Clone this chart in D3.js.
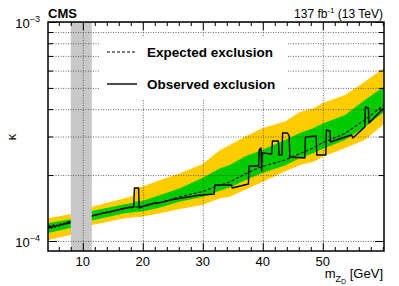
<!DOCTYPE html>
<html>
<head>
<meta charset="utf-8">
<script src="https://cdn.jsdelivr.net/npm/d3@7"></script>
<style>
  body { margin: 0; background: #fff; }
  text { font-family: "Liberation Sans", Arial, Helvetica, sans-serif; fill: #000; }
</style>
</head>
<body>
<div id="chart"></div>
<script>
// kappa values are given in units of 1e-4
var UNIT = 1e-4;

// expected limit and bands
var bandMass   = [4.2, 7.9, 11.5, 17.0, 18.3, 18.8, 19.9, 22.9, 26.2, 29.9, 32.9, 34.5, 37.0, 39.9, 43.7, 46.2, 48.5, 49.9, 53.7, 57.0, 60.2];
var yellowUp   = [1.27, 1.325, 1.435, 1.566, 1.605, 1.746, 1.768, 1.899, 2.04, 2.24, 2.60, 2.744, 2.99, 3.27, 3.51, 3.88, 4.04, 4.26, 4.64, 5.33, 6.17];
var greenUp    = [1.205, 1.256, 1.371, 1.471, 1.491, 1.515, 1.523, 1.622, 1.74, 1.94, 2.15, 2.223, 2.43, 2.603, 2.892, 3.11, 3.28, 3.43, 3.762, 4.404, 5.06];
var expected   = [1.146, 1.208, 1.305, 1.41, 1.42, 1.43, 1.435, 1.495, 1.594, 1.68, 1.80, 1.86, 2.02, 2.19, 2.343, 2.51, 2.67, 2.80, 3.10, 3.57, 4.18];
var greenDown  = [1.088, 1.146, 1.241, 1.338, 1.35, 1.356, 1.364, 1.422, 1.515, 1.588, 1.70, 1.755, 1.887, 2.044, 2.212, 2.393, 2.523, 2.631, 2.892, 3.316, 3.882];
var yellowDown = [1.011, 1.065, 1.183, 1.27, 1.28, 1.287, 1.29, 1.338, 1.40, 1.46, 1.566, 1.594, 1.71, 1.86, 2.076, 2.223, 2.30, 2.42, 2.66, 2.892, 3.422];

// observed limit
var obsMass = [4.2, 4.5, 4.8, 5.1, 5.4, 5.7, 6.0, 6.3, 6.6, 6.9, 7.2, 7.5, 7.9,
  11.5, 12.5, 13.5, 14.5, 15.5, 16.5, 17.5, 18.5, 18.6, 19.3, 19.4, 19.9,
  21, 22, 23, 24, 25, 26, 27, 28, 29, 30, 31.9, 32.0, 34.8, 34.9, 37.6, 37.7,
  39.3, 39.4, 39.7, 39.8, 39.9, 41.5, 41.6, 42.6, 42.7, 43.2, 43.3, 44.1, 44.4,
  44.5, 47.0, 47.1, 48.9, 49.0, 50.5, 50.6, 51.2, 51.3, 53.2, 54.8, 55.0,
  57.0, 57.1, 57.6, 57.7, 59.0, 60.2];
var observed = [1.134, 1.171, 1.146, 1.183, 1.158, 1.183, 1.171, 1.196, 1.183, 1.208, 1.196, 1.221, 1.221,
  1.301, 1.321, 1.342, 1.356, 1.378, 1.400, 1.422, 1.430, 1.746, 1.746, 1.415, 1.437,
  1.468, 1.491, 1.499, 1.523, 1.547, 1.564, 1.580, 1.597, 1.613, 1.622, 1.640, 1.802, 1.802, 1.746, 1.821, 2.200,
  2.200, 2.603, 2.659, 2.087, 2.523, 2.497, 2.861, 2.861, 2.470, 2.470, 3.113, 3.113, 3.016,
  2.419, 2.393, 2.985, 3.016, 2.470, 2.470, 3.213, 3.179, 2.832, 2.953, 3.048, 2.953,
  3.316, 4.092, 4.049, 3.458, 3.762, 4.049];

// masked region (GeV)
var maskedRange = [8.0, 11.5];

var xMajor = [10, 20, 30, 40, 50];
var xMinor = [6, 8, 12, 14, 16, 18, 22, 24, 26, 28, 32, 34, 36, 38, 42, 44, 46, 48, 52, 54, 56, 58, 60];
var yMajor = [1e-4, 1e-3];
var yMajorLabels = ["\u22124", "\u22123"];
var yMinor = [2e-4, 3e-4, 4e-4, 5e-4, 6e-4, 7e-4, 8e-4, 9e-4];

var W = 399, H = 286;
var pLeft = 48, pRight = 384, pTop = 22, pBottom = 251;

var svg = d3.select("#chart").append("svg")
    .attr("width", W)
    .attr("height", H);

var x = d3.scaleLinear().domain([4.2, 60.2]).range([pLeft, pRight]);
var y = d3.scaleLog().domain([0.9e-4, 1e-3]).range([pBottom, pTop]);

var bands = bandMass.map(function(m, i) {
  return {m: m, yu: yellowUp[i] * UNIT, gu: greenUp[i] * UNIT, e: expected[i] * UNIT,
          gd: greenDown[i] * UNIT, yd: yellowDown[i] * UNIT};
});
var obs = obsMass.map(function(m, i) { return {m: m, v: observed[i] * UNIT}; });

svg.append("defs").append("clipPath").attr("id", "clip")
  .append("rect").attr("x", pLeft).attr("y", pTop)
  .attr("width", pRight - pLeft).attr("height", pBottom - pTop);

var plot = svg.append("g").attr("clip-path", "url(#clip)");

// yellow band
plot.append("path")
    .datum(bands)
    .attr("fill", "#ffcc00")
    .attr("d", d3.area().x(d => x(d.m)).y0(d => y(d.yd)).y1(d => y(d.yu)));

// green band
plot.append("path")
    .datum(bands)
    .attr("fill", "#00cc00")
    .attr("d", d3.area().x(d => x(d.m)).y0(d => y(d.gd)).y1(d => y(d.gu)));

// grid
var gridX = svg.append("g")
    .attr("transform", "translate(0," + pBottom + ")")
    .call(d3.axisBottom(x).tickValues(xMajor).tickSize(-(pBottom - pTop)).tickFormat(""));
var gridY = svg.append("g")
    .attr("transform", "translate(" + pLeft + ",0)")
    .call(d3.axisLeft(y).tickValues(yMajor.concat(yMinor)).tickSize(-(pRight - pLeft)).tickFormat(""));
[gridX, gridY].forEach(function(g) {
  g.select(".domain").remove();
  g.selectAll("line")
    .attr("stroke", "#444")
    .attr("stroke-width", 0.8)
    .attr("stroke-dasharray", "1,1.5");
});

// expected line
plot.append("path")
    .datum(bands)
    .attr("fill", "none")
    .attr("stroke", "#000")
    .attr("stroke-width", 1.1)
    .attr("stroke-dasharray", "3,2")
    .attr("d", d3.line().x(d => x(d.m)).y(d => y(d.e)));

// observed line
plot.append("path")
    .datum(obs)
    .attr("fill", "none")
    .attr("stroke", "#000")
    .attr("stroke-width", 1.4)
    .attr("stroke-linejoin", "round")
    .attr("d", d3.line().x(d => x(d.m)).y(d => y(d.v)));

// masked region
plot.append("rect")
    .attr("x", x(maskedRange[0]))
    .attr("y", pTop)
    .attr("width", x(maskedRange[1]) - x(maskedRange[0]))
    .attr("height", pBottom - pTop)
    .attr("fill", "#c8c8c8");

// axes ticks (inside, all four sides)
function styleAxis(g) {
  g.select(".domain").remove();
  g.selectAll("line").attr("stroke", "#000").attr("stroke-width", 1);
}
svg.append("g").attr("transform", "translate(0," + pBottom + ")")
    .call(d3.axisBottom(x).tickValues(xMajor).tickSize(-8).tickFormat("")).call(styleAxis);
svg.append("g").attr("transform", "translate(0," + pBottom + ")")
    .call(d3.axisBottom(x).tickValues(xMinor).tickSize(-4).tickFormat("")).call(styleAxis);
svg.append("g").attr("transform", "translate(0," + pTop + ")")
    .call(d3.axisTop(x).tickValues(xMajor).tickSize(-8).tickFormat("")).call(styleAxis);
svg.append("g").attr("transform", "translate(0," + pTop + ")")
    .call(d3.axisTop(x).tickValues(xMinor).tickSize(-4).tickFormat("")).call(styleAxis);
svg.append("g").attr("transform", "translate(" + pLeft + ",0)")
    .call(d3.axisLeft(y).tickValues(yMajor).tickSize(-9).tickFormat("")).call(styleAxis);
svg.append("g").attr("transform", "translate(" + pLeft + ",0)")
    .call(d3.axisLeft(y).tickValues(yMinor).tickSize(-5).tickFormat("")).call(styleAxis);
svg.append("g").attr("transform", "translate(" + pRight + ",0)")
    .call(d3.axisRight(y).tickValues(yMajor).tickSize(-9).tickFormat("")).call(styleAxis);
svg.append("g").attr("transform", "translate(" + pRight + ",0)")
    .call(d3.axisRight(y).tickValues(yMinor).tickSize(-5).tickFormat("")).call(styleAxis);

// frame
svg.append("rect")
    .attr("x", pLeft).attr("y", pTop)
    .attr("width", pRight - pLeft).attr("height", pBottom - pTop)
    .attr("fill", "none")
    .attr("stroke", "#000")
    .attr("stroke-width", 1.5);

// x tick labels
svg.selectAll(".xlab")
  .data(xMajor)
  .enter().append("text")
    .attr("x", d => x(d))
    .attr("y", 266)
    .attr("text-anchor", "middle")
    .style("font-size", "13px")
    .text(d => d);

// y tick labels
var ylab = svg.selectAll(".ylab")
  .data(yMajor)
  .enter().append("text")
    .attr("x", 40)
    .attr("y", d => y(d) + 6)
    .attr("text-anchor", "end")
    .style("font-size", "13px");
ylab.append("tspan").text("10");
ylab.append("tspan")
    .attr("dy", -6)
    .style("font-size", "9px")
    .text((d, i) => yMajorLabels[i]);

// axis titles
svg.append("text")
    .attr("transform", "translate(16,137) rotate(-90)")
    .attr("text-anchor", "middle")
    .style("font-size", "13px")
    .text("\u03ba");

var xt = svg.append("text")
    .attr("x", 383)
    .attr("y", 278)
    .attr("text-anchor", "end")
    .style("font-size", "13px");
xt.append("tspan").text("m");
xt.append("tspan").attr("dy", 3.5).style("font-size", "9px").text("Z");
xt.append("tspan").attr("dy", 2.5).style("font-size", "7px").text("D");
xt.append("tspan").attr("dy", -6).text(" [GeV]");

// header
svg.append("text")
    .attr("x", 48).attr("y", 18)
    .style("font-size", "13px")
    .style("font-weight", "bold")
    .text("CMS");

var lumi = svg.append("text")
    .attr("x", 383).attr("y", 18)
    .attr("text-anchor", "end")
    .style("font-size", "12px");
lumi.append("tspan").text("137 fb");
lumi.append("tspan").attr("dy", -5).style("font-size", "8px").text("-1");
lumi.append("tspan").attr("dy", 5).text(" (13 TeV)");

// legend (white box hides the grid behind it)
svg.append("rect")
    .attr("x", 100).attr("y", 37)
    .attr("width", 187).attr("height", 63)
    .attr("fill", "#fff");

var legendItems = [
  {label: "Expected exclusion", dash: "3,2", w: 1.1, y: 52},
  {label: "Observed exclusion", dash: null, w: 1.4, y: 84}
];
var legend = svg.selectAll(".legend")
  .data(legendItems)
  .enter().append("g")
    .attr("transform", d => "translate(0," + d.y + ")");
legend.append("line")
    .attr("x1", 107).attr("x2", 137)
    .attr("stroke", "#000")
    .attr("stroke-width", d => d.w)
    .attr("stroke-dasharray", d => d.dash);
legend.append("text")
    .attr("x", 147).attr("y", 4.5)
    .style("font-size", "13.5px")
    .style("font-weight", "bold")
    .text(d => d.label);
</script>
</body>
</html>
